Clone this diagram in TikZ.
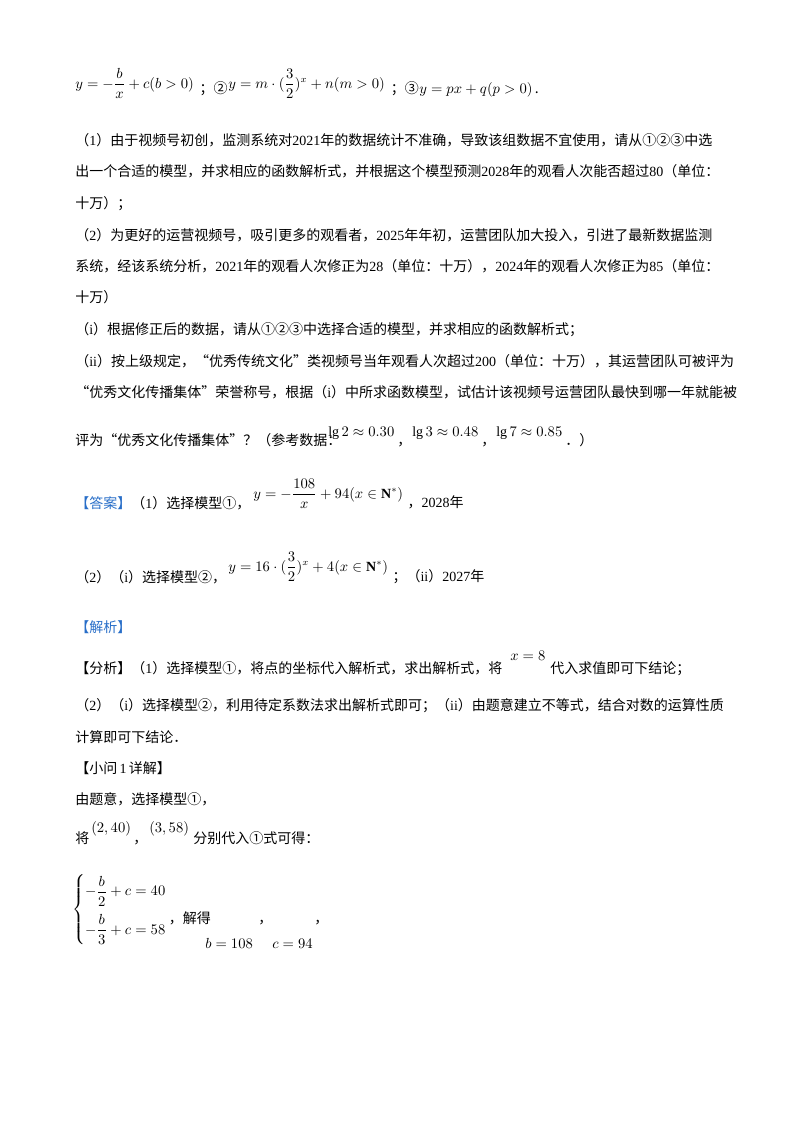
\documentclass[tikz,border=0pt]{standalone}
\usepackage{fontspec}
\usepackage{amsmath}
\setmainfont{Noto Sans CJK SC}
\newfontfamily\lat{Liberation Serif}
\newcommand{\n}[1]{{\lat #1}}
\newcommand{\NN}{\text{\lat\bfseries N}}
\newcommand{\lgx}{\text{\lat lg}\,}
\definecolor{ansblue}{RGB}{40,110,200}
\begin{document}
\begin{tikzpicture}[x=0.75pt,y=-0.75pt,
  t/.style={anchor=base west,inner sep=0pt,font=\fontsize{10.5}{12}\selectfont},
  m/.style={anchor=base west,inner sep=0pt,font=\fontsize{10.5}{12}\selectfont}]
\useasboundingbox (0,0) rectangle (800,1132);
% line 1
\node[m] (f1) at (75,88) {$y=-\dfrac{b}{x}+c(b>0)$};
\node[t,anchor=base west] (s1) at ([xshift=4pt,yshift=-4pt]f1.base east) {；②};
\node[m] (f2) at ([yshift=4pt]s1.base east) {$y=m\cdot(\dfrac{3}{2})^{x}+n(m>0)$};
\node[t] (s2) at ([xshift=4pt,yshift=-4pt]f2.base east) {；③};
\node[m] (f3) at (s2.base east) {$y=px+q(p>0)$\,.};
\node[t] (l2) at (75,145) {（\n{1}）由于视频号初创，监测系统对\n{2021}年的数据统计不准确，导致该组数据不宜使用，请从①②③中选};
\node[t] (l3) at (75,176) {出一个合适的模型，并求相应的函数解析式，并根据这个模型预测\n{2028}年的观看人次能否超过\n{80}（单位：};
\node[t] (l4) at (75,208) {十万）；};
\node[t] (l5) at (75,240) {（\n{2}）为更好的运营视频号，吸引更多的观看者，\n{2025}年年初，运营团队加大投入，引进了最新数据监测};
\node[t] (l6) at (75,271) {系统，经该系统分析，\n{2021}年的观看人次修正为\n{28}（单位：十万），\n{2024}年的观看人次修正为\n{85}（单位：};
\node[t] (l7) at (75,302) {十万）};
\node[t] (l8) at (75,334) {（\n{i}）根据修正后的数据，请从①②③中选择合适的模型，并求相应的函数解析式；};
\node[t] (l9) at (75,366) {（\n{ii}）按上级规定，“优秀传统文化”类视频号当年观看人次超过\n{200}（单位：十万），其运营团队可被评为};
\node[t] (l10) at (75,397) {“优秀文化传播集体”荣誉称号，根据（\n{i}）中所求函数模型，试估计该视频号运营团队最快到哪一年就能被};
\node[t] (l11) at (75,445) {评为“优秀文化传播集体”？（参考数据：};
\node[m] (g2) at (328,436) {$\lgx 2\approx 0.30$};
\node[t] (c1) at (397,445) {，};
\node[m] (g3) at (412,436) {$\lgx 3\approx 0.48$};
\node[t] (c2) at (481,445) {，};
\node[m] (g7) at (496,436) {$\lgx 7\approx 0.85$};
\node[t] (c3) at (565,445) {．）};
% answer
\node[t] (a1) at (75,508) {\textcolor{ansblue}{【答案】}（\n{1}）选择模型①，};
\node[m] (af1) at (253,498) {$y=-\dfrac{108}{x}+94(x\in\NN^{*})$};
\node[t] (a1b) at ([xshift=3pt,yshift=-7pt]af1.base east) {，\n{2028}年};
\node[t] (a2) at (75,582) {（\n{2}）（\n{i}）选择模型②，};
\node[m] (af2) at (228,571) {$y=16\cdot(\dfrac{3}{2})^{x}+4(x\in\NN^{*})$};
\node[t] (a2b) at ([xshift=3pt,yshift=-8pt]af2.base east) {；（\n{ii}）\n{2027}年};
\node[t,text=ansblue] (jx) at (75,632) {【解析】};
\node[t] (b1) at (75,673) {【分析】（\n{1}）选择模型①，将点的坐标代入解析式，求出解析式，将};
\node[m] (x8) at (510,660) {$x=8$};
\node[t] (b1b) at (550,673) {代入求值即可下结论；};
\node[t] (b2) at (75,710) {（\n{2}）（\n{i}）选择模型②，利用待定系数法求出解析式即可；（\n{ii}）由题意建立不等式，结合对数的运算性质};
\node[t] (b3) at (75,742) {计算即可下结论．};
\node[t] (b4) at (75,773) {【小问\,\n{1}\,详解】};
\node[t] (b5) at (75,804) {由题意，选择模型①，};
\node[t] (b6) at (75,843) {将};
\node[m] (p1) at (91,832) {$(2,40)$};
\node[t] (c4) at (133,843) {，};
\node[m] (p2) at (149,832) {$(3,58)$};
\node[t] (b6b) at (193,843) {分别代入①式可得：};
\node[m,anchor=west,inner sep=0pt] (sys) at (72,910) {$\left\{\begin{aligned}&{-}\dfrac{b}{2}+c=40\\[2pt]&{-}\dfrac{b}{3}+c=58\end{aligned}\right.$};
\node[t] (b7) at ([xshift=1pt]sys.east |- 0,923) {，解得};
\node[t] (c5) at (258,923) {，};
\node[t] (c6) at (314,923) {，};
\node[m] (bv) at (205,948) {$b=108$};
\node[m] (cv) at (272,948) {$c=94$};
\end{tikzpicture}
\end{document}
